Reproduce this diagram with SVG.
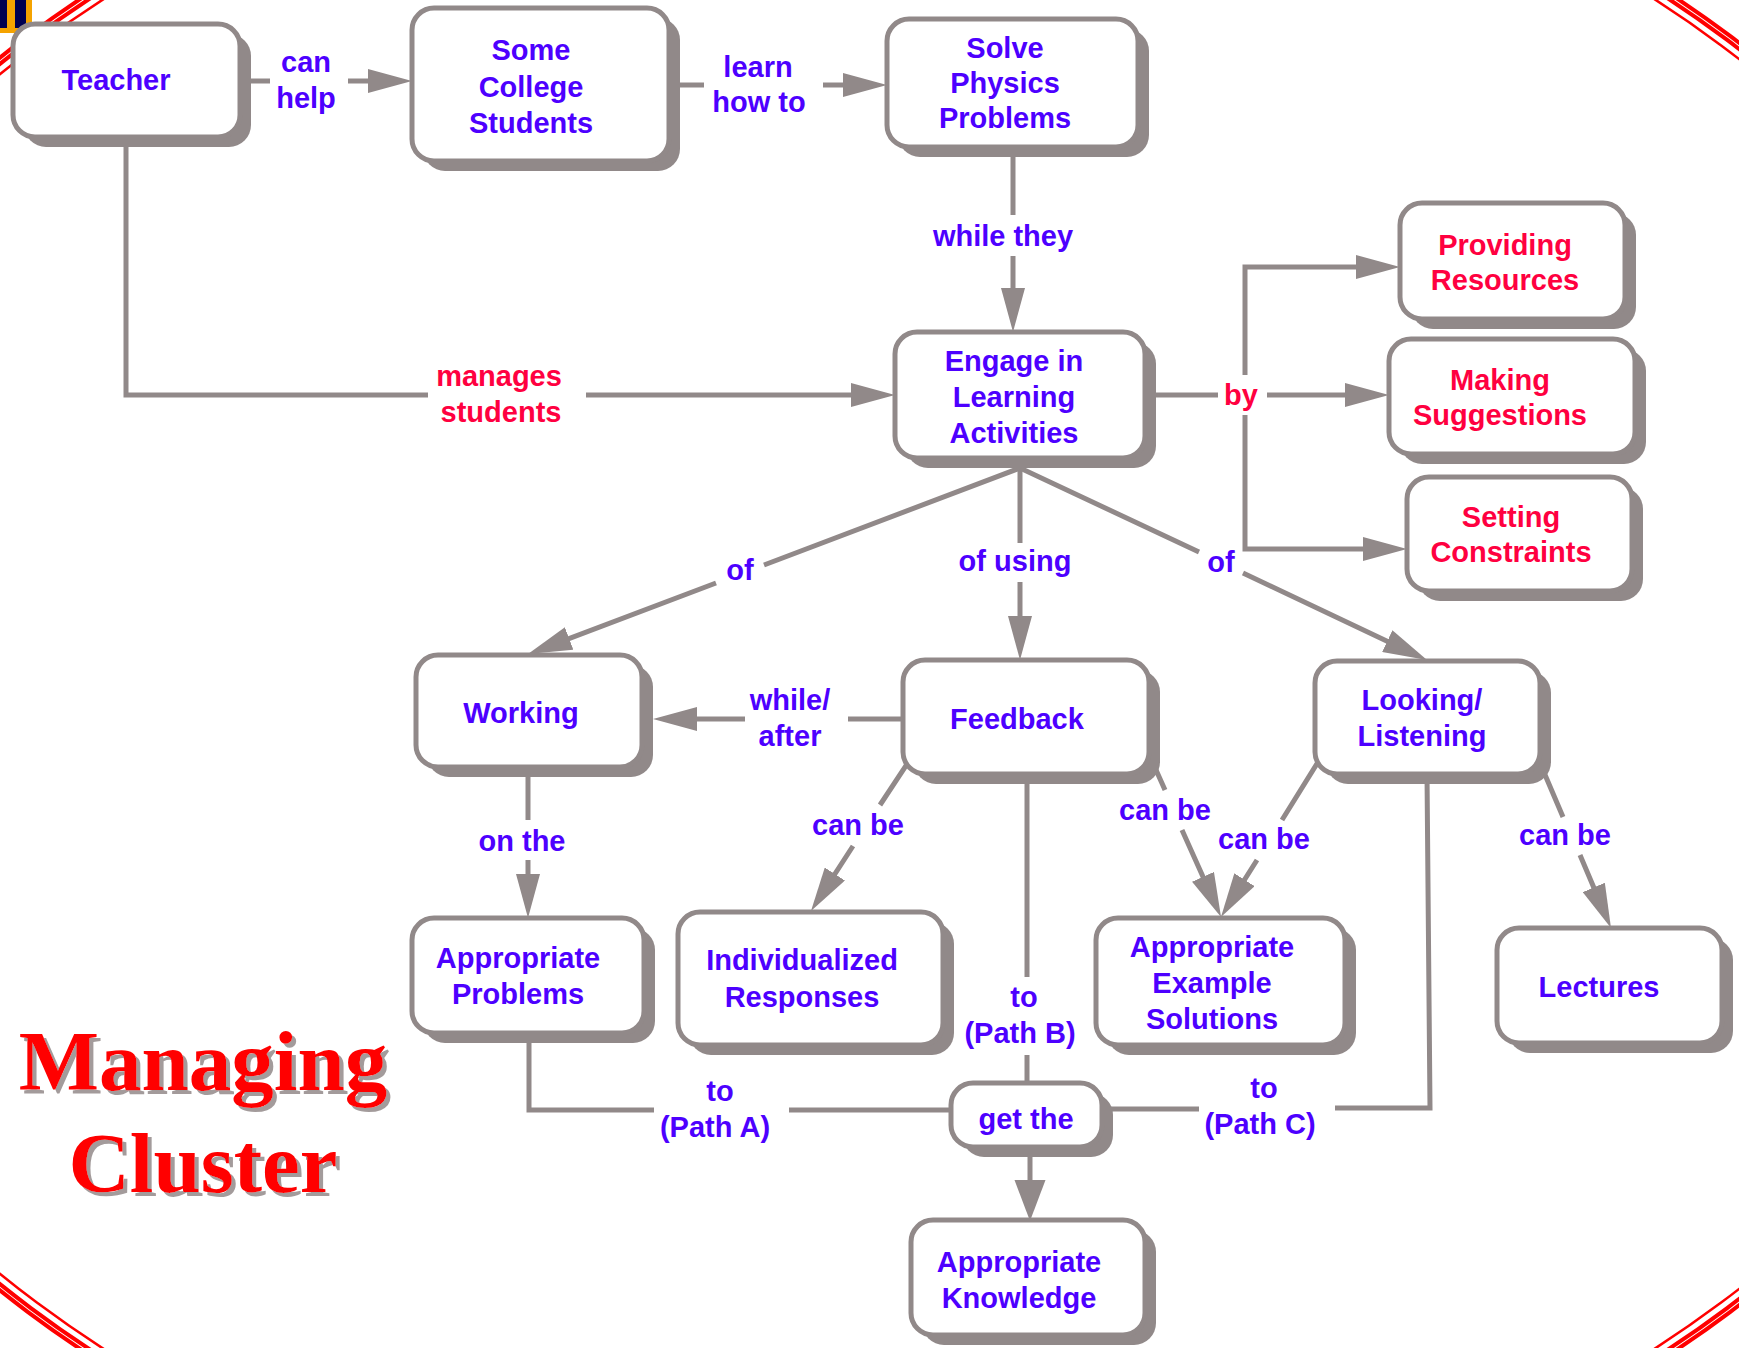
<svg xmlns="http://www.w3.org/2000/svg" width="1739" height="1348" viewBox="0 0 1739 1348">
  <style>
    .shadow { fill: #918989; }
    .box { fill: #ffffff; stroke: #918989; stroke-width: 5; }
    .t { font-family: "Liberation Sans", Arial, sans-serif; font-weight: bold; font-size: 29px; fill: #4d00ff; text-anchor: middle; }
    .r { fill: #ff0040; }
    .edge { fill: none; stroke: #918989; stroke-width: 5; }
    .ring { fill: none; stroke: #ff0000; }
    .title { font-family: "Liberation Serif", "Times New Roman", serif; font-weight: bold; font-size: 85px; text-anchor: middle; fill: #ff0000; filter: url(#titleShadow); }
  </style>
  <defs>
    <marker id="arrow" markerUnits="userSpaceOnUse" markerWidth="44" markerHeight="24" refX="32" refY="12" orient="auto">
      <path d="M0,0 L44,12 L0,24 Z" fill="#918989"/>
    </marker>
    <filter id="titleShadow" x="-10%" y="-20%" width="130%" height="150%">
      <feOffset in="SourceAlpha" dx="4" dy="4" result="off"/>
      <feFlood flood-color="#a39b9b"/>
      <feComposite in2="off" operator="in" result="shade"/>
      <feMerge>
        <feMergeNode in="shade"/>
        <feMergeNode in="SourceGraphic"/>
      </feMerge>
    </filter>
  </defs>

  <rect width="1739" height="1348" fill="#ffffff"/>

  <!-- decorative frame rings -->
  <g id="frame">
    <ellipse class="ring" cx="879" cy="674" rx="1204" ry="902" stroke-width="4"/>
    <ellipse class="ring" cx="879" cy="674" rx="1199" ry="897" stroke-width="4"/>
    <ellipse class="ring" cx="879" cy="674" rx="1191" ry="889" stroke-width="2.5"/>
  </g>

  <!-- corner logo -->
  <g id="logo">
    <rect x="0" y="0" width="32" height="33" fill="#f5a300"/>
    <rect x="0" y="0" width="7" height="28" fill="#000050"/>
    <rect x="15" y="0" width="11" height="28" fill="#000050"/>
  </g>

  <!-- title -->
  <g id="title">
    <text class="title" x="203" y="1090">Managing</text>
    <text class="title" x="203" y="1192">Cluster</text>
  </g>

  <!-- connectors -->
  <g id="connectors">
    <path class="edge" d="M240 81 H270 M348 81 H400" marker-end="url(#arrow)"/>
    <path class="edge" d="M669 85 H704 M823 85 H875" marker-end="url(#arrow)"/>
    <path class="edge" d="M1013 147 V215 M1013 256 V320" marker-end="url(#arrow)"/>
    <path class="edge" d="M126 137 V395 H428 M586 395 H883" marker-end="url(#arrow)"/>
    <path class="edge" d="M1145 395 H1218 M1267 395 H1377" marker-end="url(#arrow)"/>
    <path class="edge" d="M1245 375 V267 H1388" marker-end="url(#arrow)"/>
    <path class="edge" d="M1245 415 V549 H1395" marker-end="url(#arrow)"/>
    <path class="edge" d="M1020 458 L1020 468 L764 565 M716 583 L539.2 649.8" marker-end="url(#arrow)"/>
    <path class="edge" d="M1020 468 V543 M1020 582 V648" marker-end="url(#arrow)"/>
    <path class="edge" d="M1020 468 L1199 552 M1243 573 L1416.2 654.9" marker-end="url(#arrow)"/>
    <path class="edge" d="M903 719 H848 M745 719 H665" marker-end="url(#arrow)"/>
    <path class="edge" d="M528 767 V820 M528 860 V906" marker-end="url(#arrow)"/>
    <path class="edge" d="M913 755 L880 805 M853 846 L817.5 900.9" marker-end="url(#arrow)"/>
    <path class="edge" d="M1152 761 L1165 790 M1182 830 L1216.1 906" marker-end="url(#arrow)"/>
    <path class="edge" d="M1323 754 L1282 820 M1257 860 L1227.4 906.8" marker-end="url(#arrow)"/>
    <path class="edge" d="M1540 763 L1563 817 M1580 855 L1606.3 916.9" marker-end="url(#arrow)"/>
    <path class="edge" d="M529 1033 V1110 H654 M789 1110 H951"/>
    <path class="edge" d="M1027 774 V977 M1027 1055 V1083"/>
    <path class="edge" d="M1427 774 L1430 1108 H1335 M1199 1109 H1102"/>
    <path class="edge" d="M1030 1147 V1184" stroke-width="12"/>
    <polygon points="1014.5,1180 1045.5,1180 1030,1221" fill="#918989"/>
  </g>

  <!-- connector labels -->
  <g id="labels">
    <text class="t" x="306" y="72">can</text>
    <text class="t" x="306" y="108">help</text>
    <text class="t" x="758" y="77">learn</text>
    <text class="t" x="759" y="112">how to</text>
    <text class="t" x="1003" y="246">while they</text>
    <text class="t r" x="499" y="386">manages</text>
    <text class="t r" x="501" y="422">students</text>
    <text class="t r" x="1241" y="405">by</text>
    <text class="t" x="740" y="580">of</text>
    <text class="t" x="1015" y="571">of using</text>
    <text class="t" x="1221" y="572">of</text>
    <text class="t" x="790" y="710">while/</text>
    <text class="t" x="790" y="746">after</text>
    <text class="t" x="522" y="851">on the</text>
    <text class="t" x="858" y="835">can be</text>
    <text class="t" x="1165" y="820">can be</text>
    <text class="t" x="1264" y="849">can be</text>
    <text class="t" x="1565" y="845">can be</text>
    <text class="t" x="720" y="1101">to</text>
    <text class="t" x="715" y="1137">(Path A)</text>
    <text class="t" x="1024" y="1007">to</text>
    <text class="t" x="1020" y="1043">(Path B)</text>
    <text class="t" x="1264" y="1098">to</text>
    <text class="t" x="1260" y="1134">(Path C)</text>
  </g>

  <!-- concept nodes -->
  <g id="teacher">
    <rect class="shadow" x="24" y="34" width="227" height="113" rx="22"/>
    <rect class="box" x="13" y="24" width="227" height="113" rx="22"/>
    <text class="t" x="116" y="90">Teacher</text>
  </g>
  <g id="college-students">
    <rect class="shadow" x="423" y="18" width="257" height="153" rx="22"/>
    <rect class="box" x="412" y="8" width="257" height="153" rx="22"/>
    <text class="t" x="531" y="60">Some</text>
    <text class="t" x="531" y="97">College</text>
    <text class="t" x="531" y="133">Students</text>
  </g>
  <g id="solve-problems">
    <rect class="shadow" x="898" y="29" width="251" height="128" rx="22"/>
    <rect class="box" x="887" y="19" width="251" height="128" rx="22"/>
    <text class="t" x="1005" y="58">Solve</text>
    <text class="t" x="1005" y="93">Physics</text>
    <text class="t" x="1005" y="128">Problems</text>
  </g>
  <g id="learning-activities">
    <rect class="shadow" x="906" y="342" width="250" height="126" rx="22"/>
    <rect class="box" x="895" y="332" width="250" height="126" rx="22"/>
    <text class="t" x="1014" y="371">Engage in</text>
    <text class="t" x="1014" y="407">Learning</text>
    <text class="t" x="1014" y="443">Activities</text>
  </g>
  <g id="providing-resources">
    <rect class="shadow" x="1411" y="213" width="225" height="116" rx="22"/>
    <rect class="box" x="1400" y="203" width="225" height="116" rx="22"/>
    <text class="t r" x="1505" y="255">Providing</text>
    <text class="t r" x="1505" y="290">Resources</text>
  </g>
  <g id="making-suggestions">
    <rect class="shadow" x="1400" y="349" width="246" height="115" rx="22"/>
    <rect class="box" x="1389" y="339" width="246" height="115" rx="22"/>
    <text class="t r" x="1500" y="390">Making</text>
    <text class="t r" x="1500" y="425">Suggestions</text>
  </g>
  <g id="setting-constraints">
    <rect class="shadow" x="1418" y="487" width="225" height="114" rx="22"/>
    <rect class="box" x="1407" y="477" width="225" height="114" rx="22"/>
    <text class="t r" x="1511" y="527">Setting</text>
    <text class="t r" x="1511" y="562">Constraints</text>
  </g>
  <g id="working">
    <rect class="shadow" x="427" y="665" width="226" height="112" rx="22"/>
    <rect class="box" x="416" y="655" width="226" height="112" rx="22"/>
    <text class="t" x="521" y="723">Working</text>
  </g>
  <g id="feedback">
    <rect class="shadow" x="914" y="670" width="246" height="114" rx="22"/>
    <rect class="box" x="903" y="660" width="246" height="114" rx="22"/>
    <text class="t" x="1017" y="729">Feedback</text>
  </g>
  <g id="looking-listening">
    <rect class="shadow" x="1326" y="671" width="225" height="113" rx="22"/>
    <rect class="box" x="1315" y="661" width="225" height="113" rx="22"/>
    <text class="t" x="1422" y="710">Looking/</text>
    <text class="t" x="1422" y="746">Listening</text>
  </g>
  <g id="appropriate-problems">
    <rect class="shadow" x="423" y="928" width="232" height="115" rx="22"/>
    <rect class="box" x="412" y="918" width="232" height="115" rx="22"/>
    <text class="t" x="518" y="968">Appropriate</text>
    <text class="t" x="518" y="1004">Problems</text>
  </g>
  <g id="individualized-responses">
    <rect class="shadow" x="689" y="922" width="265" height="133" rx="22"/>
    <rect class="box" x="678" y="912" width="265" height="133" rx="22"/>
    <text class="t" x="802" y="970">Individualized</text>
    <text class="t" x="802" y="1007">Responses</text>
  </g>
  <g id="example-solutions">
    <rect class="shadow" x="1107" y="928" width="249" height="127" rx="22"/>
    <rect class="box" x="1096" y="918" width="249" height="127" rx="22"/>
    <text class="t" x="1212" y="957">Appropriate</text>
    <text class="t" x="1212" y="993">Example</text>
    <text class="t" x="1212" y="1029">Solutions</text>
  </g>
  <g id="lectures">
    <rect class="shadow" x="1508" y="938" width="225" height="115" rx="22"/>
    <rect class="box" x="1497" y="928" width="225" height="115" rx="22"/>
    <text class="t" x="1599" y="997">Lectures</text>
  </g>
  <g id="get-the">
    <rect class="shadow" x="962" y="1093" width="151" height="64" rx="22"/>
    <rect class="box" x="951" y="1083" width="151" height="64" rx="22"/>
    <text class="t" x="1026" y="1129">get the</text>
  </g>
  <g id="appropriate-knowledge">
    <rect class="shadow" x="922" y="1230" width="234" height="115" rx="22"/>
    <rect class="box" x="911" y="1220" width="234" height="115" rx="22"/>
    <text class="t" x="1019" y="1272">Appropriate</text>
    <text class="t" x="1019" y="1308">Knowledge</text>
  </g>
</svg>
